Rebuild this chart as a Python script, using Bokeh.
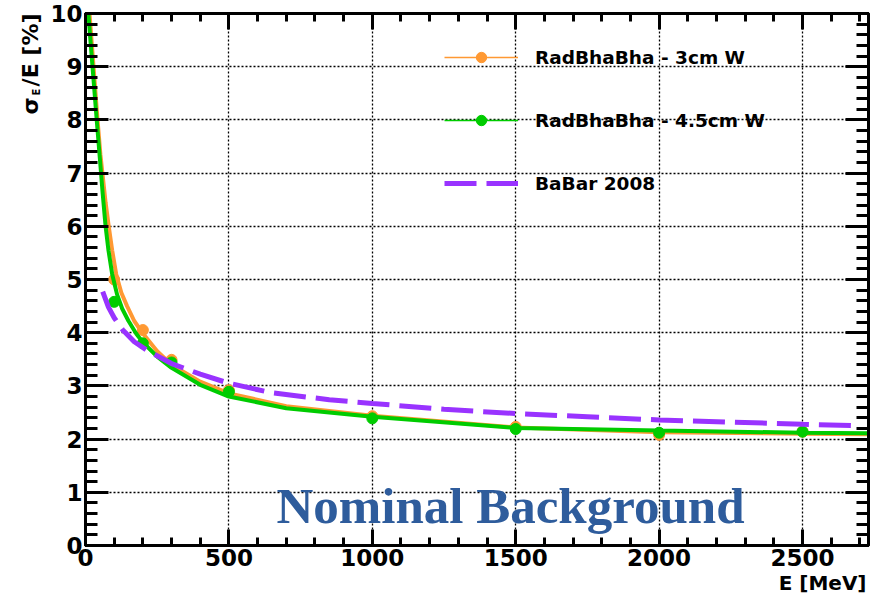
import math
from bokeh.plotting import figure
from bokeh.models import (Range1d, LinearAxis, SingleIntervalTicker, Label,
                          Legend, LegendItem)
from bokeh.embed import file_html
from bokeh.resources import INLINE

# ---------------- data ----------------
energy_pts = [100, 200, 300, 500, 1000, 1500, 2000, 2500]
res_3cm = [5.00, 4.05, 3.49, 2.92, 2.43, 2.23, 2.08, 2.14]
res_45cm = [4.58, 3.80, 3.44, 2.89, 2.39, 2.19, 2.12, 2.14]

fit3_E = [14, 28, 42, 52, 60, 70, 81, 93, 107, 125, 145, 170, 198, 250, 300,
          400, 500, 700, 1000, 1500, 2000, 2500, 2730]
fit3 = [10.0, 9.0, 8.0, 7.35, 6.95, 6.45, 6.0, 5.55, 5.1, 4.75, 4.5, 4.22, 4.0,
        3.65, 3.40, 3.08, 2.86, 2.62, 2.44, 2.22, 2.13, 2.10, 2.09]

fit45_E = [10, 25, 40, 50, 60, 70, 80, 93, 110, 128, 150, 177, 200, 250, 300,
           400, 500, 700, 1000, 1500, 2000, 2500, 2730]
fit45 = [10.0, 8.96, 7.94, 7.28, 6.61, 6.0, 5.55, 5.1, 4.72, 4.45, 4.22, 3.98,
         3.82, 3.55, 3.34, 3.02, 2.80, 2.58, 2.42, 2.21, 2.16, 2.12, 2.11]

babar_E = [60, 80, 100, 130, 170, 220, 300, 400, 500, 650, 850, 1000, 1250,
           1500, 1750, 2000, 2250, 2500, 2700]
babar = [4.77, 4.48, 4.28, 4.05, 3.83, 3.65, 3.42, 3.22, 3.05, 2.87, 2.74,
         2.67, 2.56, 2.48, 2.42, 2.36, 2.32, 2.28, 2.25]

series_names = ["RadBhaBha - 3cm W", "RadBhaBha - 4.5cm W", "BaBar 2008"]
x_title = "E [MeV]"
y_title_main = "σ\u2002/E [%]"
y_title_sub = "E"
annotation = "Nominal Background"

X_MAX, Y_MAX = 2730, 10
X_MAJOR, Y_MAJOR = 500, 1

# ---------------- style ----------------
ORANGE = "#ff9933"
GREEN = "#00cc00"
PURPLE = "#9933ff"
NOMINAL = "#2e5c9c"
SANS = "DejaVu Sans"

FRAME_W, FRAME_H = 783, 532
BORDER_L, BORDER_R, BORDER_T, BORDER_B = 85, 3, 13, 57

p = figure(frame_width=FRAME_W, frame_height=FRAME_H,
           x_range=Range1d(0, X_MAX), y_range=Range1d(0, Y_MAX),
           output_backend="svg", toolbar_location=None,
           min_border_left=BORDER_L, min_border_right=BORDER_R,
           min_border_top=BORDER_T, min_border_bottom=BORDER_B)
p.background_fill_color = "white"
p.border_fill_color = "white"
p.outline_line_color = "black"
p.outline_line_width = 3

xticker = SingleIntervalTicker(interval=X_MAJOR, num_minor_ticks=5)
yticker = SingleIntervalTicker(interval=Y_MAJOR, num_minor_ticks=5)


def style_axis(ax, major_in, minor_in, show_labels):
    ax.axis_line_width = 3
    ax.axis_line_color = "black"
    ax.major_tick_in = major_in
    ax.major_tick_out = 0
    ax.minor_tick_in = minor_in
    ax.minor_tick_out = 0
    ax.major_tick_line_width = 3
    ax.minor_tick_line_width = 3
    ax.major_tick_line_color = "black"
    ax.minor_tick_line_color = "black"
    if show_labels:
        ax.major_label_text_font = SANS
        ax.major_label_text_font_style = "bold"
        ax.major_label_text_font_size = "23px"
        ax.major_label_text_color = "black"
    else:
        ax.major_label_text_font_size = "0px"
        ax.major_label_standoff = 0


xb = p.xaxis[0]
xb.ticker = xticker
style_axis(xb, 16, 8, True)
xb.major_label_standoff = 3

yl = p.yaxis[0]
yl.ticker = yticker
style_axis(yl, 23, 12, True)
yl.major_label_standoff = 3

xt = LinearAxis(ticker=xticker)
style_axis(xt, 16, 8, False)
p.add_layout(xt, "above")
yr = LinearAxis(ticker=yticker)
style_axis(yr, 23, 12, False)
p.add_layout(yr, "right")

for g, t in ((p.xgrid, xticker), (p.ygrid, yticker)):
    g.ticker = t
    g.grid_line_color = "black"
    g.grid_line_width = 1.3
    g.grid_line_dash = "2 2"

# ---------------- glyphs ----------------
pts3 = p.scatter(energy_pts, res_3cm, size=11, color=ORANGE)
p.line(fit3_E, fit3, color=ORANGE, line_width=4)
pts45 = p.scatter(energy_pts, res_45cm, size=11, color=GREEN)
p.line(fit45_E, fit45, color=GREEN, line_width=4)
bb = p.line(babar_E, babar, color=PURPLE, line_width=5, line_dash="32 10")

# thin lines used only for the legend swatches (nothing drawn in the plot)
nan = float("nan")
leg3 = p.line(x=[nan], y=[nan], color=ORANGE, line_width=1.5)
leg45 = p.line(x=[nan], y=[nan], color=GREEN, line_width=1.5)

legend = Legend(items=[
    LegendItem(label=series_names[0], renderers=[leg3, pts3]),
    LegendItem(label=series_names[1], renderers=[leg45, pts45]),
    LegendItem(label=series_names[2], renderers=[bb]),
], location=(359, 349))
legend.glyph_width = 74
legend.glyph_height = 26
legend.spacing = 37
legend.label_standoff = 17
legend.padding = 0
legend.margin = 0
legend.label_text_font = SANS
legend.label_text_font_style = "bold"
legend.label_text_font_size = "18.5px"
legend.label_text_color = "black"
legend.background_fill_alpha = 0
legend.border_line_alpha = 0
p.add_layout(legend)

# ---------------- texts ----------------
SX = FRAME_W / X_MAX
SY = FRAME_H / Y_MAX
WIN_LEFT = BORDER_L
WIN_BOTTOM = BORDER_T + FRAME_H


def dx(win_x):
    return (win_x - WIN_LEFT) / SX


def dy(win_y):
    return (WIN_BOTTOM - win_y) / SY


p.add_layout(Label(x=dx(510), y=dy(505), text=annotation, text_align="center",
                   text_baseline="alphabetic", text_font="Liberation Serif",
                   text_font_style="bold", text_font_size="51px",
                   text_color=NOMINAL))

p.add_layout(Label(x=dx(866), y=dy(582), text=x_title, text_align="right",
                   text_baseline="alphabetic", text_font=SANS,
                   text_font_style="bold", text_font_size="20px",
                   text_color="black"), "below")

half_pi = math.pi / 2
p.add_layout(Label(x=dx(30), y=dy(13), text=y_title_main, angle=half_pi,
                   text_align="right", text_baseline="alphabetic",
                   text_font=SANS, text_font_style="bold",
                   text_font_size="22px", text_color="black"), "left")
p.add_layout(Label(x=dx(36), y=dy(95), text=y_title_sub, angle=half_pi,
                   text_align="left", text_baseline="alphabetic",
                   text_font=SANS, text_font_style="bold",
                   text_font_size="10px", text_color="black"), "above")

open("out.html", "w").write(file_html(p, INLINE))
